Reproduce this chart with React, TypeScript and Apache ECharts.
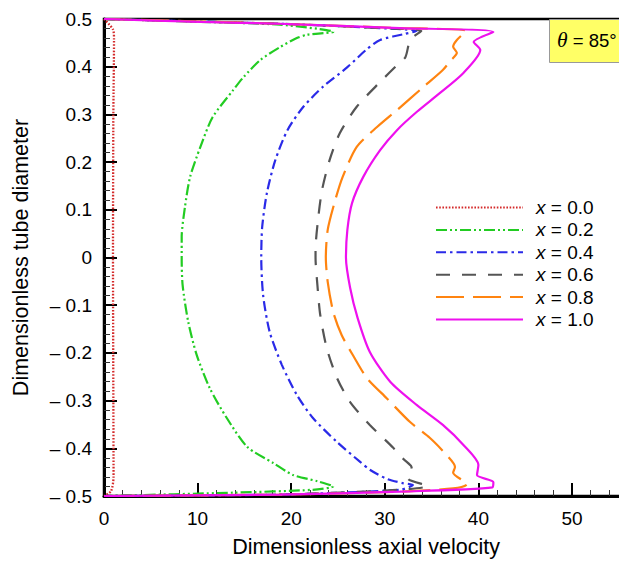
import React, { useEffect, useRef } from "react";
import * as echarts from "echarts";

const seriesNames = ["x = 0.0", "x = 0.2", "x = 0.4", "x = 0.6", "x = 0.8", "x = 1.0"];
const seriesColors = ["#d42a2a", "#22cc22", "#2a2ae8", "#555555", "#ff8410", "#ee10ee"];

const profile00: [number, number][] = [
  [0, 0.5], [0.96, 0.478], [1.07, 0.457], [1.0, 0.3], [0.96, 0], [1.0, -0.3], [1.02, -0.46], [0.75, -0.49], [0, -0.5],
];
const profile02: [number, number][] = [
  [0, 0.5], [10.3, 0.494], [18.8, 0.488], [24.5, 0.473], [21.7, 0.467], [20.6, 0.46], [18.8, 0.441], [16.7, 0.414],
  [14.9, 0.378], [13.8, 0.351], [11.6, 0.294], [10.3, 0.232], [9.2, 0.169], [8.65, 0.106], [8.3, 0.043], [8.3, 0],
  [8.4, -0.058], [9.0, -0.135], [9.9, -0.204], [11.3, -0.274], [13.1, -0.336], [15.3, -0.397], [18.1, -0.431],
  [20.2, -0.456], [22.8, -0.469], [24.5, -0.48], [22.3, -0.487], [13.8, -0.493], [0, -0.5],
];
const profile04: [number, number][] = [
  [0, 0.5], [18.8, 0.49], [29.5, 0.481], [33.4, 0.475], [32.2, 0.469], [29.5, 0.456], [28.1, 0.437], [26.0, 0.399],
  [23.4, 0.358], [21.3, 0.316], [19.6, 0.267], [18.3, 0.204], [17.4, 0.135], [16.9, 0.064], [16.8, 0],
  [17.0, -0.079], [17.7, -0.156], [19.0, -0.225], [20.6, -0.288], [22.3, -0.336], [24.9, -0.387], [27.4, -0.429],
  [28.4, -0.445], [30.2, -0.464], [31.9, -0.473], [33.0, -0.477], [31.6, -0.487], [18.8, -0.497], [0, -0.5],
];
const profile06: [number, number][] = [
  [0, 0.5], [18.8, 0.49], [29.5, 0.481], [33.9, 0.475], [33.0, 0.462], [32.6, 0.45], [32.2, 0.42], [31.3, 0.403],
  [29.5, 0.368], [27.0, 0.316], [25.2, 0.261], [24.1, 0.204], [23.3, 0.142], [22.9, 0.085], [22.6, 0.016], [22.6, 0],
  [22.8, -0.058], [23.1, -0.12], [23.8, -0.19], [24.9, -0.253], [26.3, -0.303], [28.4, -0.351], [30.9, -0.399],
  [31.6, -0.416], [32.8, -0.437], [32.9, -0.451], [32.5, -0.464], [34.6, -0.479], [31.6, -0.487], [18.8, -0.497], [0, -0.5],
];
const profile08: [number, number][] = [
  [0, 0.5], [18.8, 0.49], [31.6, 0.481], [38.7, 0.475], [37.7, 0.456], [37.3, 0.442], [37.7, 0.429], [37.0, 0.412],
  [36.2, 0.393], [34.1, 0.357], [31.3, 0.309], [29.2, 0.274], [27.0, 0.232], [25.5, 0.169], [24.7, 0.12], [23.9, 0.058],
  [23.7, 0], [23.9, -0.051], [24.5, -0.115], [25.4, -0.163], [26.6, -0.205], [28.1, -0.253], [30.2, -0.295],
  [32.7, -0.345], [34.8, -0.378], [36.6, -0.414], [37.5, -0.439], [37.3, -0.451], [38.8, -0.475], [37.3, -0.484],
  [31.6, -0.491], [18.8, -0.497], [0, -0.5],
];
const profile10: [number, number][] = [
  [0, 0.5], [10.3, 0.494], [18.8, 0.49], [31.6, 0.481], [41.6, 0.473], [39.5, 0.452], [40.2, 0.435], [38.4, 0.387],
  [35.9, 0.345], [33.4, 0.305], [31.3, 0.267], [29.5, 0.225], [27.7, 0.169], [26.5, 0.114], [26.0, 0.058], [25.85, 0],
  [26.3, -0.064], [27.1, -0.127], [28.4, -0.198], [30.6, -0.261], [33.4, -0.309], [36.2, -0.351], [38.4, -0.393],
  [40.0, -0.435], [39.85, -0.456], [41.6, -0.471], [41.5, -0.482], [31.6, -0.491], [18.8, -0.497], [0, -0.5],
];

const profiles = [profile00, profile02, profile04, profile06, profile08, profile10];
const dashes: (number[] | "solid")[] = [
  [1.6, 1.6],
  [11, 3, 2, 3, 2, 3],
  [10, 4, 2.5, 4],
  [14, 12],
  [28, 9],
  "solid",
];
const widths = [2.3, 2.2, 2.2, 2.2, 2.2, 2.2];

const FONT = "'Liberation Sans', Arial, Helvetica, sans-serif";

export default function App() {
  const ref = useRef<HTMLDivElement>(null);
  useEffect(() => {
    if (!ref.current) return;
    const chart = echarts.init(ref.current, null, { renderer: "svg" });
    const axisLabelStyle = { color: "#000", fontSize: 19, fontFamily: FONT };
    chart.setOption({
      animation: false,
      backgroundColor: "#fff",
      grid: {
        left: 104,
        top: 19,
        width: 56 * 9.36,
        height: 477,
        show: true,
        borderColor: "#000",
        borderWidth: 2.5,
        containLabel: false,
        outerBoundsMode: "none",
      },
      xAxis: {
        type: "value",
        min: 0,
        max: 56,
        interval: 10,
        name: "Dimensionless axial velocity",
        nameLocation: "middle",
        nameGap: 40,
        nameTextStyle: { color: "#000", fontSize: 21.5, fontFamily: FONT },
        axisLine: { show: true, onZero: false, lineStyle: { color: "#000", width: 3 } },
        axisTick: { show: true, inside: true, length: 13, lineStyle: { color: "#000", width: 2 } },
        minorTick: { show: true, splitNumber: 5, length: 6, lineStyle: { color: "#333", width: 1 } },
        axisLabel: {
          ...axisLabelStyle,
          margin: 13,
          showMaxLabel: false,
          formatter: (v: number) => String(v),
        },
        splitLine: { show: false },
      },
      yAxis: {
        type: "value",
        min: -0.5,
        max: 0.5,
        interval: 0.1,
        name: "Dimensionless tube diameter",
        nameLocation: "middle",
        nameGap: 72,
        nameTextStyle: { color: "#000", fontSize: 21.5, fontFamily: FONT },
        axisLine: { show: true, onZero: false, lineStyle: { color: "#000", width: 3 } },
        axisTick: { show: true, inside: true, length: 13, lineStyle: { color: "#000", width: 2 } },
        minorTick: { show: true, splitNumber: 5, length: 6, lineStyle: { color: "#333", width: 1 } },
        axisLabel: {
          ...axisLabelStyle,
          margin: 12,
          formatter: (v: number) => {
            if (Math.abs(v) < 1e-9) return "0";
            return v < 0 ? "\u2013 " + Math.abs(v).toFixed(1) : v.toFixed(1);
          },
        },
        splitLine: { show: false },
      },
      legend: {
        orient: "vertical",
        left: 435,
        top: 198,
        padding: 0,
        itemWidth: 87,
        itemHeight: 14,
        itemGap: 3.4,
        data: seriesNames,
        itemStyle: { opacity: 0 },
        formatter: (name: string) => "{i|x}{n|" + name.slice(1) + "}",
        textStyle: {
          fontFamily: FONT,
          fontSize: 19,
          color: "#000",
          padding: [0, 0, 0, 8],
          rich: {
            i: { fontFamily: FONT, fontSize: 19, fontStyle: "italic", color: "#000" },
            n: { fontFamily: FONT, fontSize: 19, color: "#000" },
          },
        },
      },
      graphic: [
        {
          type: "rect",
          left: 549,
          top: 19,
          shape: { width: 90, height: 43 },
          style: { fill: "#ffff66", stroke: "#999", lineWidth: 1 },
          z: 10,
        },
        {
          type: "text",
          left: 557,
          top: 29,
          z: 11,
          style: {
            text: "{t|\u03b8} = 85\u00b0",
            fill: "#000",
            fontFamily: FONT,
            fontSize: 18.5,
            rich: {
              t: { fontFamily: "'Liberation Serif', 'Times New Roman', serif", fontStyle: "italic", fontSize: 21.5, fill: "#000" },
            },
          },
        },
      ],
      series: profiles.map((data, i) => ({
        name: seriesNames[i],
        type: "line",
        data,
        showSymbol: false,
        symbol: "none",
        smooth: 0.25,
        color: seriesColors[i],
        lineStyle: { color: seriesColors[i], width: widths[i], type: dashes[i] },
        z: 3,
      })),
    });
    return () => chart.dispose();
  }, []);
  return (
    <div
      ref={ref}
      style={{ position: "fixed", left: 0, top: 0, width: 619, height: 563, background: "#fff" }}
    />
  );
}
